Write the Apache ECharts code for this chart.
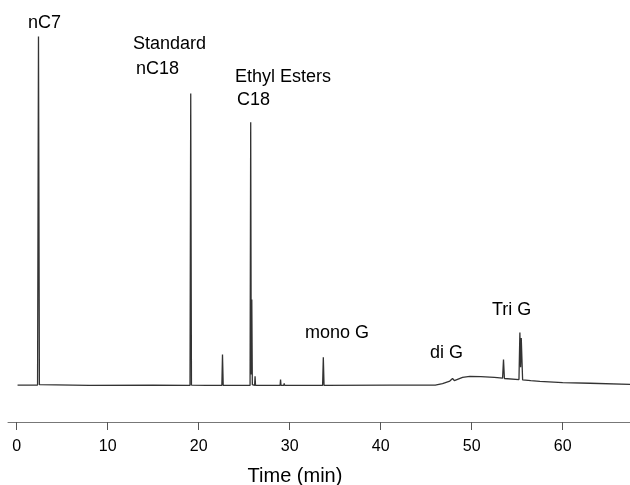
<!DOCTYPE html>
<html>
<head>
<meta charset="utf-8">
<script src="https://cdn.jsdelivr.net/npm/echarts@6/dist/echarts.min.js"></script>
<style>
  html, body { margin: 0; padding: 0; background: #fff; }
  #chart { width: 630px; height: 485px; }
</style>
</head>
<body>
<div id="chart"></div>
<script>
// 色谱图数据 (time in min, relative signal)
const trace = [
  [0.1, 0.1], [2.3, 0.1], [2.4, 95.5], [2.5, 0.2],
  [8, 0], [15, 0.1],
  [19.05, 0], [19.13, 79.9], [19.21, 0.1],
  [20.85, 0], [20.9, 0.5], [20.95, 0],
  [22.55, 0], [22.62, 8.5], [22.7, 0],
  [25.65, 0], [25.72, 72], [25.78, 3], [25.84, 23.5], [25.9, 0.2],
  [26.15, 0], [26.2, 2.5], [26.25, 0],
  [28.95, 0], [29.0, 1.6], [29.05, 0],
  [29.35, 0], [29.4, 0.6], [29.45, 0],
  [33.62, 0], [33.7, 7.7], [33.78, 0],
  [41, 0.1], [46, 0.1],
  [46.8, 0.5], [47.6, 1.2], [47.9, 1.9], [48.1, 1.3], [49, 2.2], [49.8, 2.5],
  [51, 2.4], [52.5, 2.2], [53.4, 2.0], [53.5, 7.1], [53.6, 1.9],
  [55.2, 1.6], [55.3, 14.5], [55.38, 5], [55.45, 13], [55.6, 1.5],
  [56.5, 1.3], [57.5, 1.1], [57.6, 1.6], [57.7, 1.0],
  [60, 0.8], [63, 0.6], [67.4, 0.3]
]

const xTicks = [0, 10, 20, 30, 40, 50, 60]

// 峰标注
const peakNames = ['nC7', 'Standard', 'nC18', 'Ethyl Esters', 'C18', 'mono G', 'di G', 'Tri G']
const peakLabelX = [1.24, 12.78, 13.11, 23.99, 24.21, 31.68, 45.42, 52.23]
const peakLabelY = [99.2, 93.4, 86.6, 84.4, 78.1, 14.4, 8.9, 20.7]

const myChart = echarts.init(document.getElementById('chart'))

const options = {
  animation: false,
  backgroundColor: '#fff',
  textStyle: { fontFamily: 'Liberation Sans, Arial, sans-serif' },
  grid: { left: 8, right: 0, top: 20, bottom: 63, outerBoundsMode: 'none', containLabel: false },
  xAxis: {
    type: 'value',
    min: -0.95,
    max: 67.4,
    splitLine: { show: false },
    axisLine: { onZero: false, lineStyle: { color: '#777', width: 1 } },
    axisTick: { length: 8, lineStyle: { color: '#555' }, customValues: xTicks },
    axisLabel: { margin: 17, fontSize: 16, color: '#000', customValues: xTicks },
    name: 'Time (min)',
    nameLocation: 'middle',
    nameGap: 44,
    nameTextStyle: { fontSize: 20, color: '#000', padding: [0, 48, 0, 0] }
  },
  yAxis: {
    type: 'value',
    min: -10,
    max: 100,
    show: false
  },
  series: [
    {
      type: 'line',
      data: trace,
      symbol: 'none',
      lineStyle: { color: '#333', width: 1.3 }
    },
    {
      type: 'scatter',
      symbolSize: 0,
      itemStyle: { opacity: 1 },
      data: peakNames.map((n, i) => ({ name: n, value: [peakLabelX[i], peakLabelY[i]] })),
      label: {
        show: true,
        position: 'right',
        distance: 0,
        formatter: p => p.name,
        fontSize: 18,
        color: '#000',
        opacity: 1
      },
      silent: true
    }
  ]
}

myChart.setOption(options)
</script>
</body>
</html>
